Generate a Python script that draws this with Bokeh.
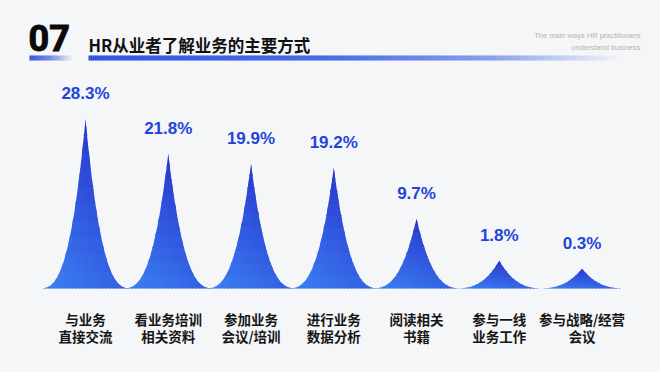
import numpy as np
from bokeh.plotting import figure
from bokeh.models import ColumnDataSource, Range1d
from bokeh.embed import file_html
from bokeh.resources import INLINE
from bokeh.core.properties import value

# ---------------- data ----------------
categories = ["与业务\n直接交流", "看业务培训\n相关资料", "参加业务\n会议/培训",
              "进行业务\n数据分析", "阅读相关\n书籍", "参与一线\n业务工作",
              "参与战略/经营\n会议"]
shares = [28.3, 21.8, 19.9, 19.2, 9.7, 1.8, 0.3]
share_labels = ["28.3%", "21.8%", "19.9%", "19.2%", "9.7%", "1.8%", "0.3%"]
chart_no = "07"
title = "HR从业者了解业务的主要方式"
subtitle = "The main ways HR practitioners\nunderstand business"

# ---------------- layout ----------------
W_PX, H_PX = 660, 372
SX = 82.75          # px per category
SY = 5.35           # px per percentage point
BASE = -3.4         # baseline of the spikes (data units)
BASE_PX = 288
X0 = -85.0 / SX
X1 = X0 + W_PX / SX
Y1 = BASE + BASE_PX / SY
Y0 = Y1 - H_PX / SY

def dx(px):
    return X0 + px / SX

def dy(py):
    return Y1 - py / SY

BG = "#f5f6f8"

p = figure(width=W_PX, height=H_PX, x_range=Range1d(X0, X1), y_range=Range1d(Y0, Y1),
           output_backend="svg", toolbar_location=None, min_border=0,
           background_fill_color=BG, border_fill_color=BG, outline_line_color=None)
p.axis.visible = False
p.xgrid.visible = False
p.ygrid.visible = False

# ---------------- spikes with gradient ----------------
def lerp_color(c0, c1, t):
    t = min(max(t, 0.0), 1.0)
    r = int(round(c0[0] + (c1[0] - c0[0]) * t))
    g = int(round(c0[1] + (c1[1] - c0[1]) * t))
    b = int(round(c0[2] + (c1[2] - c0[2]) * t))
    return "#%02x%02x%02x" % (r, g, b)

LIGHT = (60, 132, 245)
DARK = (40, 50, 204)
HW = 0.57      # half width of a spike (category units)
NPOW = 2.95
NX, NY = 28, 10
EPS_X = 1.2 / SX
EPS_Y = 1.2 / SY

xs_all, ys_all, cols = [], [], []
for i, v in enumerate(shares):
    H = v - BASE
    def curve(x):
        t = np.clip(np.abs(x) / HW, 0, 1)
        return BASE + H * (1 - t) ** NPOW
    edges = np.linspace(-HW, HW, NX + 1)
    for j in range(NX):
        a = edges[j]
        b = edges[j + 1] + (EPS_X if j < NX - 1 else 0.0)
        sx = np.linspace(a, b, 8)
        if j == NX // 2 - 1:
            sx = np.sort(np.append(sx, 0.0))
        c = curve(sx)
        u = ((edges[j] + edges[j + 1]) / 2 + HW) / (2 * HW)
        for k in range(NY):
            y0 = BASE + k * H / NY
            y1 = y0 + H / NY + (EPS_Y if k < NY - 1 else 0.0)
            if c.max() <= y0:
                break
            top = np.clip(c, y0, y1)
            px = list(sx + i) + [b + i, a + i]
            py = list(top) + [y0, y0]
            vf = (k + 0.5) / NY
            col = lerp_color(LIGHT, DARK, 0.45 * u + 0.7 * vf)
            xs_all.append(px)
            ys_all.append(py)
            cols.append(col)

src = ColumnDataSource(dict(xs=xs_all, ys=ys_all, c=cols))
p.patches("xs", "ys", source=src, fill_color="c", line_color=None)

# ---------------- value labels ----------------
idx = list(range(len(shares)))
p.text(x=idx, y=[s + 25.0 / SY for s in shares], text=share_labels,
       text_align="center", text_baseline="middle",
       text_font=value("Liberation Sans"), text_font_style="bold",
       text_font_size="17px", text_color="#1f45d8")

# ---------------- category labels ----------------
p.text(x=idx, y=[dy(327)] * len(idx), text=categories,
       text_align="center", text_baseline="middle", text_line_height=0.86,
       text_font=value("Noto Sans CJK SC"), text_font_style="bold",
       text_font_size="13.5px", text_color="#151515")

# ---------------- header ----------------
def grad_bar(x_start, x_end, y_top, y_bot, stops):
    n = int((x_end - x_start) / 2)
    lefts, rights, cs = [], [], []
    for k in range(n):
        xa = x_start + k * (x_end - x_start) / n
        xb = x_start + (k + 1) * (x_end - x_start) / n
        f = (k + 0.5) / n
        for s in range(len(stops) - 1):
            f0, c0 = stops[s]
            f1, c1 = stops[s + 1]
            if f0 <= f <= f1:
                cs.append(lerp_color(c0, c1, (f - f0) / (f1 - f0)))
                break
        lefts.append(dx(xa))
        rights.append(dx(xb + 0.3))
    p.quad(left=lefts, right=rights, top=[dy(y_top)] * n, bottom=[dy(y_bot)] * n,
           fill_color=cs, line_color=None)

grad_bar(29, 71, 55, 60, [(0, (52, 78, 220)), (0.5, (110, 135, 230)), (1, (235, 238, 248))])
grad_bar(88, 622, 55, 60, [(0, (44, 76, 222)), (0.45, (64, 100, 228)),
                           (0.75, (130, 155, 235)), (1, (245, 246, 248))])

p.text(x=[dx(28)], y=[dy(37)], text=[chart_no], text_align="left",
       text_baseline="middle", text_font=value("Roboto"), text_font_style="bold",
       text_font_size="36px", text_color="#0a0a0a", text_outline_color="#0a0a0a")
p.text(x=[dx(88)], y=[dy(44)], text=[title], text_align="left",
       text_baseline="middle", text_font=value("Noto Sans CJK SC"), text_font_style="bold",
       text_font_size="16.5px", text_color="#111111")
p.text(x=[dx(640)], y=[dy(41)], text=[subtitle], text_align="right",
       text_baseline="middle", text_line_height=1.3,
       text_font=value("Liberation Sans"), text_font_size="7.5px", text_color="#b4b4b4")

open("out.html", "w").write(file_html(p, INLINE))
